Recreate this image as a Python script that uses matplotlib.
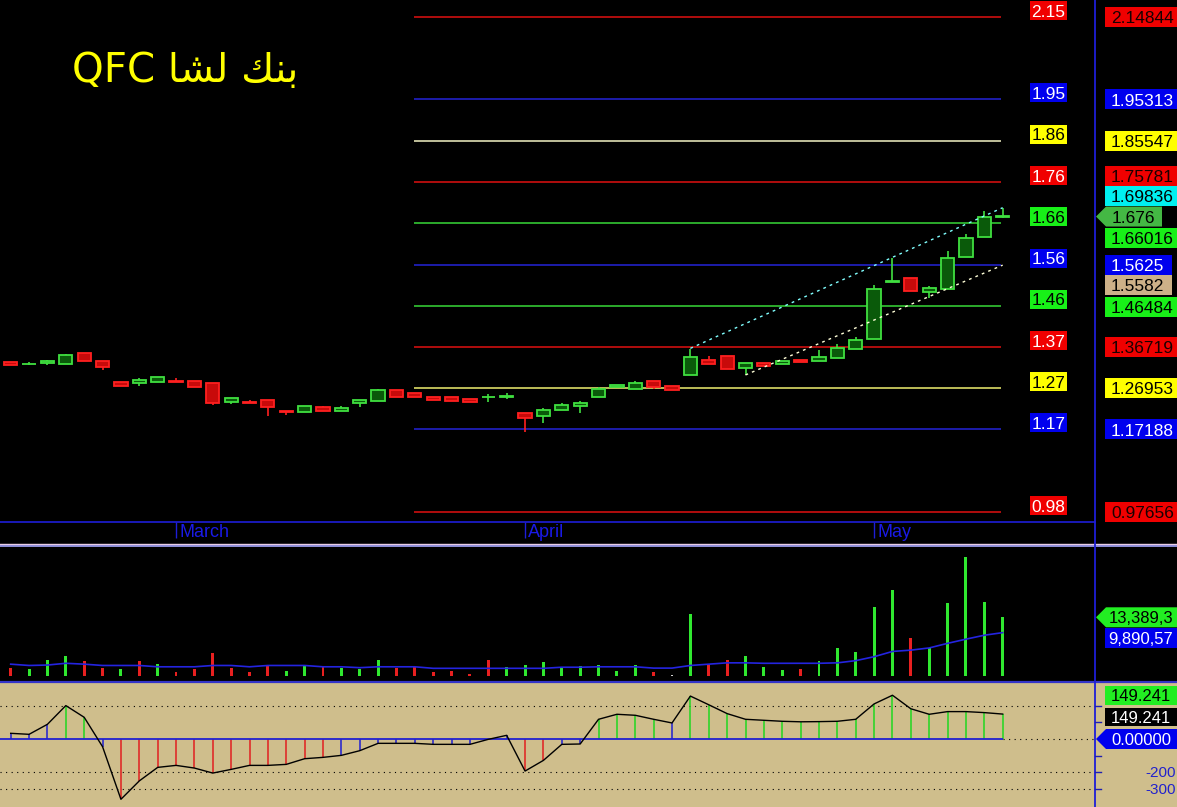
import matplotlib
matplotlib.use('Agg')
import matplotlib.pyplot as plt
from matplotlib.patches import Polygon
import numpy as np

W, H = 1177, 807

# ---------------- data ----------------
title = "QFC " + "\uFE8E\uFEB8\uFEDF" + " " + "\uFEDA\uFEE8\uFE91"   # QFC بنك لشا (visual order)

opens  = [1.331, 1.326, 1.330, 1.326, 1.352, 1.334, 1.284, 1.283, 1.284, 1.287,
          1.286, 1.281, 1.236, 1.237, 1.241, 1.216, 1.214, 1.224, 1.216, 1.235,
          1.240, 1.265, 1.259, 1.250, 1.250, 1.245, 1.249, 1.248, 1.211, 1.205,
          1.219, 1.228, 1.248, 1.273, 1.268, 1.287, 1.274, 1.302, 1.336, 1.346,
          1.318, 1.330, 1.326, 1.336, 1.335, 1.342, 1.363, 1.385, 1.522, 1.530,
          1.498, 1.505, 1.581, 1.628, 1.676]
highs  = [1.331, 1.332, 1.337, 1.351, 1.352, 1.334, 1.284, 1.294, 1.296, 1.293,
          1.286, 1.281, 1.246, 1.241, 1.241, 1.216, 1.227, 1.227, 1.228, 1.241,
          1.268, 1.265, 1.259, 1.250, 1.250, 1.245, 1.255, 1.258, 1.211, 1.222,
          1.234, 1.239, 1.273, 1.277, 1.286, 1.287, 1.274, 1.363, 1.347, 1.346,
          1.329, 1.330, 1.334, 1.336, 1.360, 1.374, 1.390, 1.514, 1.577, 1.530,
          1.512, 1.595, 1.634, 1.688, 1.696]
lows   = [1.325, 1.325, 1.325, 1.326, 1.333, 1.313, 1.276, 1.276, 1.284, 1.285,
          1.272, 1.230, 1.232, 1.235, 1.205, 1.207, 1.214, 1.216, 1.216, 1.226,
          1.240, 1.250, 1.248, 1.242, 1.240, 1.238, 1.238, 1.243, 1.167, 1.187,
          1.219, 1.212, 1.248, 1.273, 1.268, 1.268, 1.266, 1.302, 1.328, 1.316,
          1.301, 1.323, 1.326, 1.332, 1.335, 1.342, 1.363, 1.385, 1.522, 1.499,
          1.483, 1.505, 1.581, 1.628, 1.672]
closes = [1.325, 1.328, 1.335, 1.348, 1.333, 1.319, 1.276, 1.288, 1.296, 1.285,
          1.272, 1.235, 1.246, 1.235, 1.224, 1.214, 1.227, 1.216, 1.222, 1.241,
          1.265, 1.250, 1.248, 1.242, 1.240, 1.238, 1.249, 1.252, 1.198, 1.218,
          1.230, 1.235, 1.268, 1.277, 1.282, 1.273, 1.266, 1.344, 1.328, 1.316,
          1.329, 1.323, 1.334, 1.332, 1.344, 1.365, 1.384, 1.505, 1.523, 1.499,
          1.507, 1.577, 1.625, 1.674, 1.676]

volume_m = [1.82, 1.67, 3.65, 4.56, 3.50, 1.82, 1.67, 3.50, 2.74, 0.91,
            1.52, 5.30, 1.82, 0.91, 2.58, 1.06, 2.28, 2.28, 1.82, 1.67,
            3.65, 1.82, 1.98, 0.91, 1.22, 0.46, 3.65, 2.13, 2.43, 3.19,
            1.82, 2.20, 2.50, 1.22, 2.58, 0.91, 0.30, 14.10, 2.74, 3.65,
            4.56, 2.13, 1.37, 1.52, 3.50, 6.39, 5.47, 15.66, 19.60, 8.67,
            6.39, 16.70, 27.10, 16.90, 13.39]
volume_dir = list("rgggrrgrgrrrrrrggrgggrrrrrrggggggggrwgrrgggrgggggrggggg")
volume_ma_m = [2.7, 2.4, 2.5, 2.9, 2.7, 2.4, 2.4, 2.4, 2.1, 2.1,
               2.1, 2.4, 2.4, 2.1, 2.4, 2.4, 2.4, 2.1, 2.1, 1.9,
               2.1, 2.1, 2.1, 1.75, 1.75, 1.75, 1.75, 1.75, 1.75, 1.75,
               2.0, 2.0, 2.1, 2.1, 2.1, 1.8, 1.8, 2.4, 2.7, 3.0,
               3.0, 2.9, 2.9, 2.9, 2.9, 3.0, 3.5, 4.4, 5.6, 5.9,
               6.4, 7.45, 8.4, 9.3, 9.89]

oscillator = [34, 28, 88, 200, 130, -46, -361, -251, -170, -158,
              -174, -204, -182, -158, -158, -152, -118, -110, -98, -70,
              -26, -26, -26, -32, -32, -32, -2, 22, -192, -128,
              -32, -30, 118, 148, 142, 118, 96, 257, 205, 152,
              118, 112, 106, 103, 104, 106, 118, 210, 262, 181,
              148, 164, 164, 158, 149.241]

levels = [2.14844, 1.95313, 1.85547, 1.75781, 1.66016, 1.5625, 1.46484,
          1.36719, 1.26953, 1.17188, 0.97656]
level_short = ['2.15', '1.95', '1.86', '1.76', '1.66', '1.56', '1.46',
               '1.37', '1.27', '1.17', '0.98']
level_long = ['2.14844', '1.95313', '1.85547', '1.75781', '1.66016', '1.5625',
              '1.46484', '1.36719', '1.26953', '1.17188', '0.97656']
level_kind = ['r', 'b', 'w', 'r', 'g', 'b', 'g', 'r', 'y', 'b', 'r']

upper_channel = ([37, 54], [1.364, 1.697])
lower_channel = ([40, 54], [1.301, 1.561])

month_idx = [9, 28, 47]
month_names = ['March', 'April', 'May']

last_close_label = '1.676'
extra_price_labels = [('1.69836', 1.69836), ('1.5582', 1.5582)]
vol_last_label = '13,389,3'
vol_ma_label = '9,890,57'
osc_label = '149.241'

# ---------------- layout ----------------
fig = plt.figure(figsize=(W / 100, H / 100), dpi=100, facecolor='black')


def rect(x0, y0, x1, y1):
    return [x0 / W, 1 - y1 / H, (x1 - x0) / W, (y1 - y0) / H]


def clean(ax, fc):
    ax.set_facecolor(fc)
    ax.set_xticks([])
    ax.set_yticks([])
    for s in ax.spines.values():
        s.set_visible(False)


X0, DX = 10.7, 18.37
xlim = (-X0 / DX, (W - X0) / DX)
xr = (1095 - X0) / DX        # x of right scale separator in index units
idx = np.arange(len(closes))

GREEN_O, GREEN_F = '#40E040', '#0A5A0A'
RED_O, RED_F = '#FF2020', '#C80A0A'
BLUE = '#1E1ED8'
LAB = 'Liberation Sans'

# price panel
axp = fig.add_axes(rect(0, 0, W, 522))
clean(axp, 'black')
axp.set_xlim(xlim)
axp.set_ylim(0.952891, 2.188686)

lvl_line = {'r': '#E01010', 'b': '#2424D8', 'w': '#F4F4C4', 'g': '#38D838', 'y': '#F0F070'}
axp.hlines(levels, 21.95, 53.9, colors=[lvl_line[k] for k in level_kind], lw=1.1, zorder=1)

o = np.array(opens); c = np.array(closes); hi = np.array(highs); lo = np.array(lows)
up = c >= o
axp.vlines(idx, lo, hi, colors=np.where(up, GREEN_O, RED_O), lw=1.2, zorder=2)
bot = np.minimum(o, c)
hgt = np.maximum(np.abs(c - o), 0.0004)
axp.bar(idx, hgt, bottom=bot, width=0.72, color=np.where(up, GREEN_F, RED_F),
        edgecolor=np.where(up, GREEN_O, RED_O), linewidth=1.3, zorder=3)

axp.plot(*upper_channel, color='#80FFFF', lw=1, ls=(0, (2, 3)), zorder=4)
axp.plot(*lower_channel, color='#FFFFD8', lw=1, ls=(0, (2, 3)), zorder=4)

# date strip
axd = fig.add_axes(rect(0, 522, W, 543))
clean(axd, 'black')
axd.set_xlim(xlim)
axd.set_ylim(543, 522)
axd.vlines(np.array(month_idx) - 0.02, 522, 538, colors=BLUE, lw=1)
for m, name in zip(month_idx, month_names):
    axd.text(m + 0.18, 532.5, name, color='#1A1AE6', fontsize=13, family=LAB,
             va='center', ha='left')

# volume panel
axv = fig.add_axes(rect(0, 547, W, 681))
clean(axv, 'black')
axv.set_xlim(xlim)
axv.set_ylim(-1.14, 29.42)
vcol = {'g': '#30E830', 'r': '#E82020', 'w': '#D0D0D0'}
axv.bar(idx, volume_m, width=0.16, color=[vcol[k] for k in volume_dir], zorder=2)
axv.plot(idx, volume_ma_m, color='#2424E0', lw=1.2, zorder=3)

# oscillator panel
axo = fig.add_axes(rect(0, 683, W, 807))
clean(axo, '#CFBE8C')
axo.set_xlim(xlim)
axo.set_ylim(-407.2, 335.3)
axo.hlines([200, -200, -300, 0], [xlim[0]] * 3 + [54], xr, colors='black', lw=0.8,
           linestyles=[(0, (1, 4))] * 4, zorder=1)
osc = np.array(oscillator)
stem_c = np.where(osc > 100, '#20D820', np.where(osc < -100, '#E02020', '#2020D0'))
axo.vlines(idx, 0, osc, colors=stem_c, lw=1.1, zorder=2)
axo.hlines(0, xlim[0], 54, colors='#2020D0', lw=1.3, zorder=3)
axo.plot(idx, osc, color='black', lw=1.0, zorder=4)

# overlay in pixel coordinates for separators and labels
ovl = fig.add_axes([0, 0, 1, 1], zorder=10)
ovl.set_facecolor('none')
ovl.set_xticks([]); ovl.set_yticks([])
for s in ovl.spines.values():
    s.set_visible(False)
ovl.set_xlim(0, W)
ovl.set_ylim(H, 0)

ovl.plot([0, 1095], [522, 522], color=BLUE, lw=1.2)
ovl.plot([0, W], [543.8, 543.8], color='#E8CDE8', lw=1.0)
ovl.plot([0, W], [545.8, 545.8], color='#A8A8FF', lw=1.2)
ovl.plot([0, W], [681.8, 681.8], color='#3434C8', lw=1.6)
ovl.plot([1095, 1095], [0, H], color=BLUE, lw=1.3)


def ypix(ax, v):
    return H - ax.transData.transform((0, v))[1]


def tag(y, text, fc, tc, x0=1105, x1=1177, arrow=False, fs=12.5, h=20, tx=1111):
    if arrow:
        poly = [(1096, y), (x0, y - h / 2), (x1, y - h / 2), (x1, y + h / 2), (x0, y + h / 2)]
    else:
        poly = [(x0, y - h / 2), (x1, y - h / 2), (x1, y + h / 2), (x0, y + h / 2)]
    ovl.add_patch(Polygon(poly, closed=True, fc=fc, ec='none'))
    ovl.text(tx, y + 0.36 * fs * 100 / 72 * 0.98, text, color=tc, fontsize=fs,
             family=LAB, va='baseline', ha='left')


box_bg = {'r': '#F00000', 'b': '#0000EE', 'w': '#FFFF00', 'g': '#18F018', 'y': '#FFFF00'}
short_fg = {'r': 'white', 'b': 'white', 'w': 'black', 'g': 'black', 'y': 'black'}
long_fg = {'r': '#1A0000', 'b': 'white', 'w': 'black', 'g': 'black', 'y': 'black'}
shift = {3: -6, 4: 15, 6: 1}   # label offsets (px) used by the source to avoid overlaps
for i, (v, s_lab, l_lab, k) in enumerate(zip(levels, level_short, level_long, level_kind)):
    y = ypix(axp, v)
    # inner label
    yc = y - 6.5
    ovl.add_patch(Polygon([(1030, yc - 9.5), (1067, yc - 9.5), (1067, yc + 9.5), (1030, yc + 9.5)],
                          closed=True, fc=box_bg[k], ec='none'))
    ovl.text(1048.5, yc + 6.2, s_lab, color=short_fg[k], fontsize=12.5, family=LAB,
             va='baseline', ha='center')
    # right scale label
    x1 = 1172 if l_lab == '1.5625' else 1177
    tag(y + shift.get(i, 0), l_lab, box_bg[k], long_fg[k], x1=x1)

# extra price labels
tag(ypix(axp, extra_price_labels[0][1]) - 11, extra_price_labels[0][0], '#00F0F0', 'black')
tag(ypix(axp, extra_price_labels[1][1]) + 19, extra_price_labels[1][0], '#CDB088', 'black', x1=1172)
tag(ypix(axp, closes[-1]), last_close_label, '#44B844', 'black', x0=1106, x1=1162, arrow=True, tx=1112)

# volume labels
tag(ypix(axv, volume_m[-1]), vol_last_label, '#22EE22', 'black', x0=1106, arrow=True,
    tx=1109, fs=12)
tag(ypix(axv, volume_ma_m[-1]) + 5.5, vol_ma_label, '#0000EE', 'white', tx=1108, fs=12)

# oscillator labels and ticks
for t in [200, 100, -100, -200, -300]:
    yt = ypix(axo, t)
    ovl.plot([1095, 1101], [yt, yt], color='#2020B0', lw=1.0)
for t in [-200, -300]:
    yt = ypix(axo, t)
    ovl.text(1176, yt + 5, str(t), color='#2222CC', fontsize=11, family=LAB,
             va='baseline', ha='right')
tag(ypix(axo, oscillator[-1]) - 18.5, osc_label, '#22EE22', 'black', h=18.5, fs=12)
tag(ypix(axo, oscillator[-1]) + 3, osc_label, 'black', 'white', h=18.5, fs=12)
tag(ypix(axo, 0), '0.00000', '#0000EE', 'white', x0=1106, arrow=True, h=20, fs=12)

# title
ovl.text(72, 82, title, color='#FFFF00', fontsize=29, family=['DejaVu Sans'],
         va='baseline', ha='left')

fig.savefig('out.png', dpi=100, facecolor='black')
